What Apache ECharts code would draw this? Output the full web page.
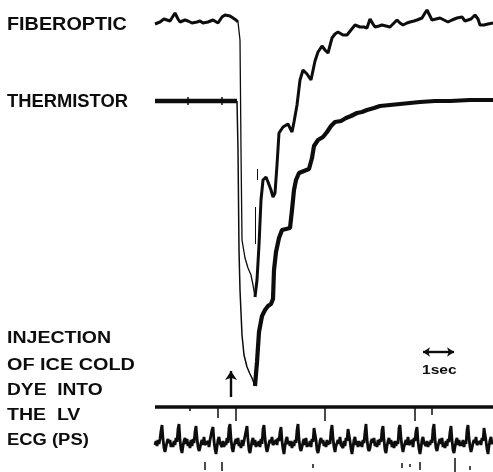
<!DOCTYPE html>
<html>
<head>
<meta charset="utf-8">
<script src="https://cdn.jsdelivr.net/npm/echarts@6/dist/echarts.min.js"></script>
<style>
  html, body { margin: 0; padding: 0; background: #fff; }
  #chart { width: 493px; height: 472px; }
</style>
</head>
<body>
<div id="chart"></div>
<script>
// units: position on the chart paper (x to the right, y downwards)

// fiberoptic trace
const fiberBase = [[155,24],[160,22],[164,19],[167,20],[170,21],[172,23],[175,13],[178,19],[180,22],[185,20],[188,21],[192,23],[197,22],[200,21],[203,23],[208,22],[213,20],[218,23],[222,17],[225,15],[227,13],[230,16],[232,18],[236,20],[238,22]];
const fiberDrop = [[238,22],[240,40],[241,150],[242,240],[245,258],[248,268],[251,275],[253,285],[255,297]];
const fiberRise = [[255,297],[257,280],[259,245],[261,200],[263,180],[266,177],[268,182],[271,190],[273,197],[275,193],[277,165],[279,133],[283,127],[288,124],[292,132],[294,122],[297,105],[300,80],[303,70],[307,74],[311,80],[315,61],[318,52],[322,46],[325,50],[328,53],[332,38],[335,34],[338,32],[343,35],[347,35],[351,30],[355,25],[360,27],[364,27],[367,28],[370,19],[373,24],[375,27],[379,26],[382,25],[386,26],[390,27],[394,23],[397,20],[400,23],[403,25],[407,23],[410,22],[414,21],[417,20],[422,18],[425,13],[427,10],[430,16],[432,20],[436,19],[440,18],[444,20],[448,22],[452,20],[457,18],[462,17],[465,21],[467,23],[471,19],[475,15],[478,19],[480,25],[484,25],[488,24],[493,23]];

// thermistor trace
const thermBase = [[155,101],[188,101],[222,101],[237,101]];
const thermDrop = [[237,101],[238,150],[239,250],[240,290],[242,335],[244,355],[247,367],[250,374],[252,378],[255,386]];
const thermRise = [[255,386],[257,362],[259,332],[262,316],[265,310],[268,306],[271,304],[273,299],[274,270],[276,252],[279,238],[282,230],[286,229],[290,228],[292,210],[294,190],[296,180],[299,173],[304,171],[309,169],[312,158],[314,146],[318,140],[323,137],[327,132],[331,126],[335,122],[341,121],[346,118],[351,116],[357,113],[362,112],[367,110],[374,108],[380,106],[390,105],[400,104],[410,103],[420,102],[435,101],[450,101],[470,100],[493,100]];
const thermNotches = [[[188,97],[188,105]],[[222,97],[222,105]]];
const stray = [[[257,169],[257,180]],[[255,207],[255,244]]];

// ECG, one value per unit from x = 155
const ecgStart = 155;
const ecgStep = 1;
const ecg = [
  445,441,446,440,444,439,431,425,439,448,452,447,442,439,443,440,447,
  443,447,441,445,438,442,429,424,440,449,453,446,441,438,444,439,446,
  442,448,440,446,439,443,432,426,438,447,451,448,443,440,445,437,445,
  444,446,441,447,440,441,430,427,441,449,454,447,440,437,443,441,447,
  441,447,442,445,438,443,428,424,439,448,452,446,442,439,444,438,446,
  443,448,440,446,441,442,431,426,440,450,453,447,441,438,445,440,447,
  442,446,441,447,439,444,429,425,438,447,452,448,443,440,443,437,445,
  444,447,440,445,438,441,432,427,441,449,454,446,440,437,444,441,446,
  441,448,442,446,440,443,430,424,439,448,451,447,442,439,445,438,447,
  443,446,441,447,439,442,428,426,440,450,453,448,441,438,443,440,446,
  442,447,440,445,441,444,431,425,438,447,452,446,443,440,444,437,445,
  444,448,441,446,438,441,429,427,441,449,454,447,440,437,445,441,447,
  441,446,442,447,440,443,432,424,439,448,451,448,442,439,443,438,446,
  443,447,440,445,439,442,430,426,440,450,453,446,441,438,444,440,447,
  442,448,441,446,441,444,428,425,438,447,452,447,443,440,445,437,445,
  444,446,440,447,438,441,431,427,441,449,454,448,440,437,443,441,446,
  441,447,442,445,440,443,429,424,439,448,451,446,442,439,444,438,447,
  443,448,441,446,439,442,432,426,440,450,453,447,441,438,445,440,446,
  442,446,440,447,441,444,430,425,438,447,452,448,443,440,443,437,445,
  444,447,441,445,438,441,428,427,441,449,454,446,440,437,444,441];

// event marker line and its ticks
const markerLine = [[155,407],[493,407]];
const markerTicks = [[[190,407],[190,411]],[[218,407],[218,418]],[[236,407],[236,421]],[[325,407],[325,421]],[[415,407],[415,421]],[[432,407],[432,415]]];
const timeDashes = [[[205,462],[205,470]],[[222,462],[222,471]],[[313,464],[313,468]],[[402,463],[402,468]],[[410,464],[410,467]],[[420,462],[420,470]],[[455,458],[455,472]],[[470,466],[470,470]]];

const injectionArrow = [[231,397],[231,371]];
const secArrow = [[423,352],[454,352]];

const labels = [
  { text: 'FIBEROPTIC', x: 7, y: 25, size: 18, sx: 1.1 },
  { text: 'THERMISTOR', x: 7, y: 102, size: 18, sx: 1.02 },
  { text: 'INJECTION', x: 7, y: 339, size: 16, sx: 1.22 },
  { text: 'OF ICE COLD', x: 7, y: 366, size: 16, sx: 1.24 },
  { text: 'DYE  INTO', x: 7, y: 391, size: 16, sx: 1.2 },
  { text: 'THE  LV', x: 7, y: 416, size: 16, sx: 1.22 },
  { text: 'ECG (PS)', x: 7, y: 441, size: 16, sx: 1.15 },
  { text: '1sec', x: 422, y: 370, size: 13, sx: 1.2 }
];

const ink = '#0d0d0d';

function line(data, width) {
  return {
    type: 'line', data, showSymbol: false, symbol: 'none',
    lineStyle: { color: ink, width }, silent: true
  };
}

function segs(list, width, symbol, symbolSize) {
  return {
    type: 'lines', coordinateSystem: 'cartesian2d', polyline: false,
    symbol: symbol || 'none', symbolSize: symbolSize || 0,
    lineStyle: { color: ink, width, opacity: 1 },
    data: list.map(c => ({ coords: c })), silent: true
  };
}

const chart = echarts.init(document.getElementById('chart'));
chart.setOption({
  animation: false,
  backgroundColor: '#fff',
  grid: { left: 0, right: 0, top: 0, bottom: 0 },
  xAxis: { type: 'value', min: 0, max: 493, show: false },
  yAxis: { type: 'value', min: 0, max: 472, inverse: true, show: false },
  graphic: labels.map(l => ({
    type: 'text', x: l.x, y: l.y, scaleX: l.sx,
    style: {
      text: l.text, fill: ink, fontSize: l.size, fontWeight: 'bold',
      fontFamily: 'Liberation Sans, Arial, sans-serif', verticalAlign: 'middle'
    }
  })),
  series: [
    line(fiberBase, 3),
    line(fiberDrop, 1.3),
    line(fiberRise, 3),
    line(thermBase, 4.5),
    line(thermDrop, 1.5),
    line(thermRise, 4.2),
    segs(thermNotches, 1.5),
    segs(stray, 1),
    line(ecg.map((v, i) => [ecgStart + i * ecgStep, v]), 2.8),
    line(markerLine, 3.5),
    segs(markerTicks, 1.5),
    segs(timeDashes, 1.5),
    segs([injectionArrow], 2.4, ['none', 'arrow'], 9),
    segs([secArrow], 2.4, ['arrow', 'arrow'], 7)
  ]
});
</script>
</body>
</html>
